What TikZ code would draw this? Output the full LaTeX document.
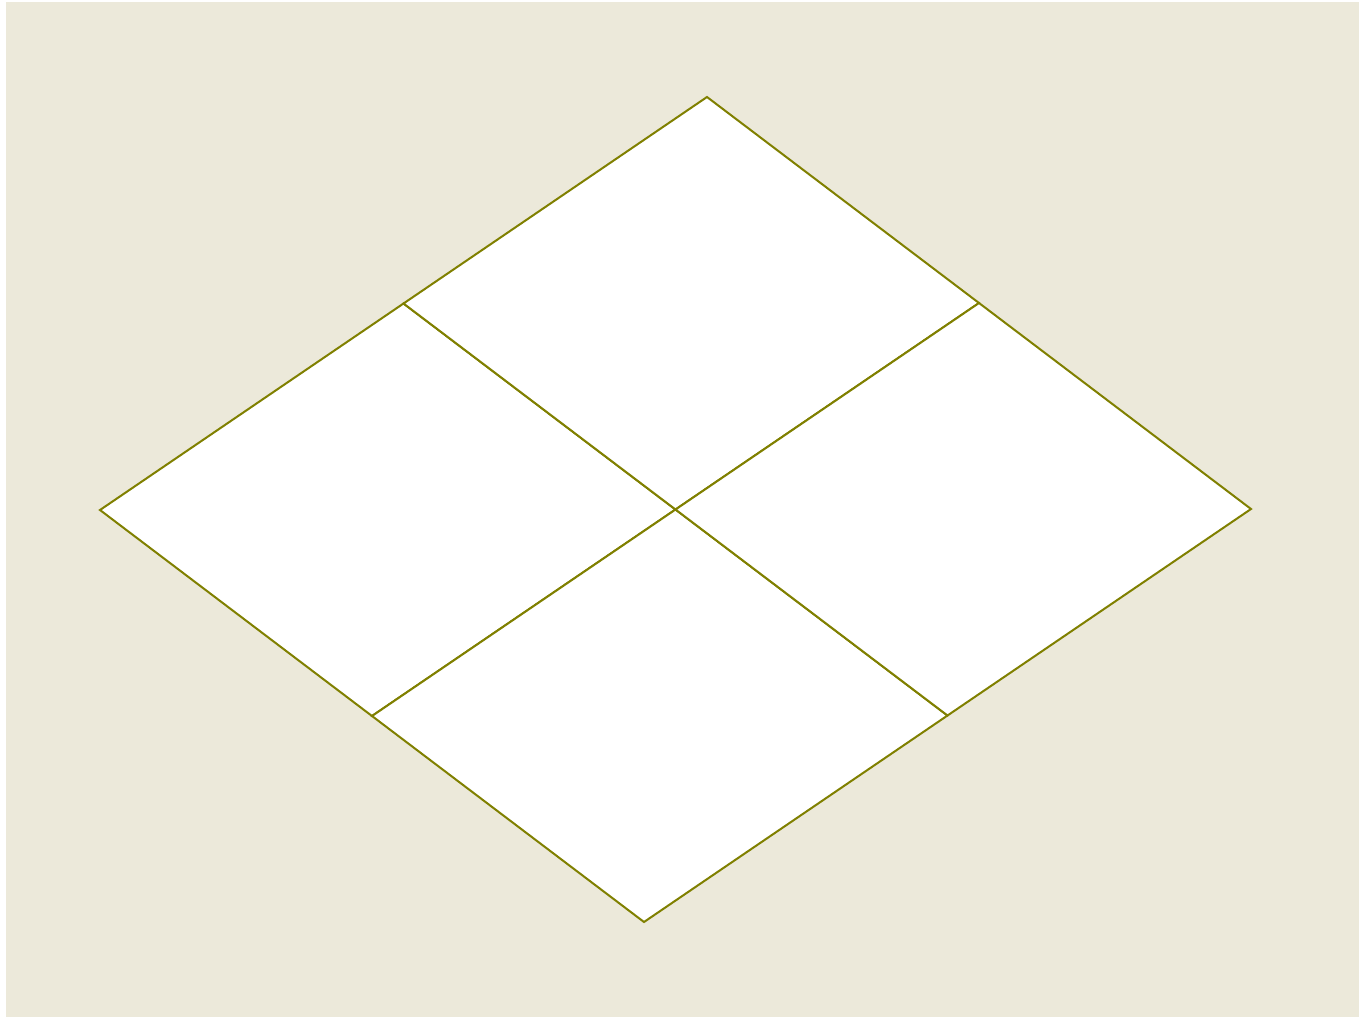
\documentclass[tikz,border=0pt]{standalone}
\usetikzlibrary{calc}

\definecolor{paper}{RGB}{236,233,218}
\definecolor{olive}{RGB}{128,128,0}

\begin{document}
\begin{tikzpicture}[
  x=1pt, y=-1pt,
  backdrop/.style = {fill=paper, draw=none},
  cell/.style     = {fill=white, draw=olive, line width=2pt, line join=miter},
]

% =============================================================
% Frame and background
% =============================================================
\useasboundingbox (0,0) rectangle (1360,1018);
\fill[backdrop] (6,2) rectangle (1359,1017);

% =============================================================
% Grid corners (2 x 2 cells of a rhombus)
% =============================================================
% Left corner at (100,510); edge steps u (up-right) and v (down-right).
\coordinate (L)  at (100,510);
\coordinate (u)  at (303.5,-206.5);
\coordinate (v)  at (272,206);

\coordinate (P00) at (L);
\coordinate (P10) at ($(L)+(u)$);
\coordinate (P20) at ($(L)+2*(u)$);
\coordinate (P01) at ($(L)+(v)$);
\coordinate (P11) at ($(L)+(u)+(v)$);
\coordinate (P21) at ($(L)+2*(u)+(v)$);
\coordinate (P02) at ($(L)+2*(v)$);
\coordinate (P12) at ($(L)+(u)+2*(v)$);
\coordinate (P22) at ($(L)+2*(u)+2*(v)$);

% --- cells ---
\draw[cell] (P00) -- (P10) -- (P11) -- (P01) -- cycle;
\draw[cell] (P10) -- (P20) -- (P21) -- (P11) -- cycle;
\draw[cell] (P01) -- (P11) -- (P12) -- (P02) -- cycle;
\draw[cell] (P11) -- (P21) -- (P22) -- (P12) -- cycle;

\end{tikzpicture}
\end{document}
